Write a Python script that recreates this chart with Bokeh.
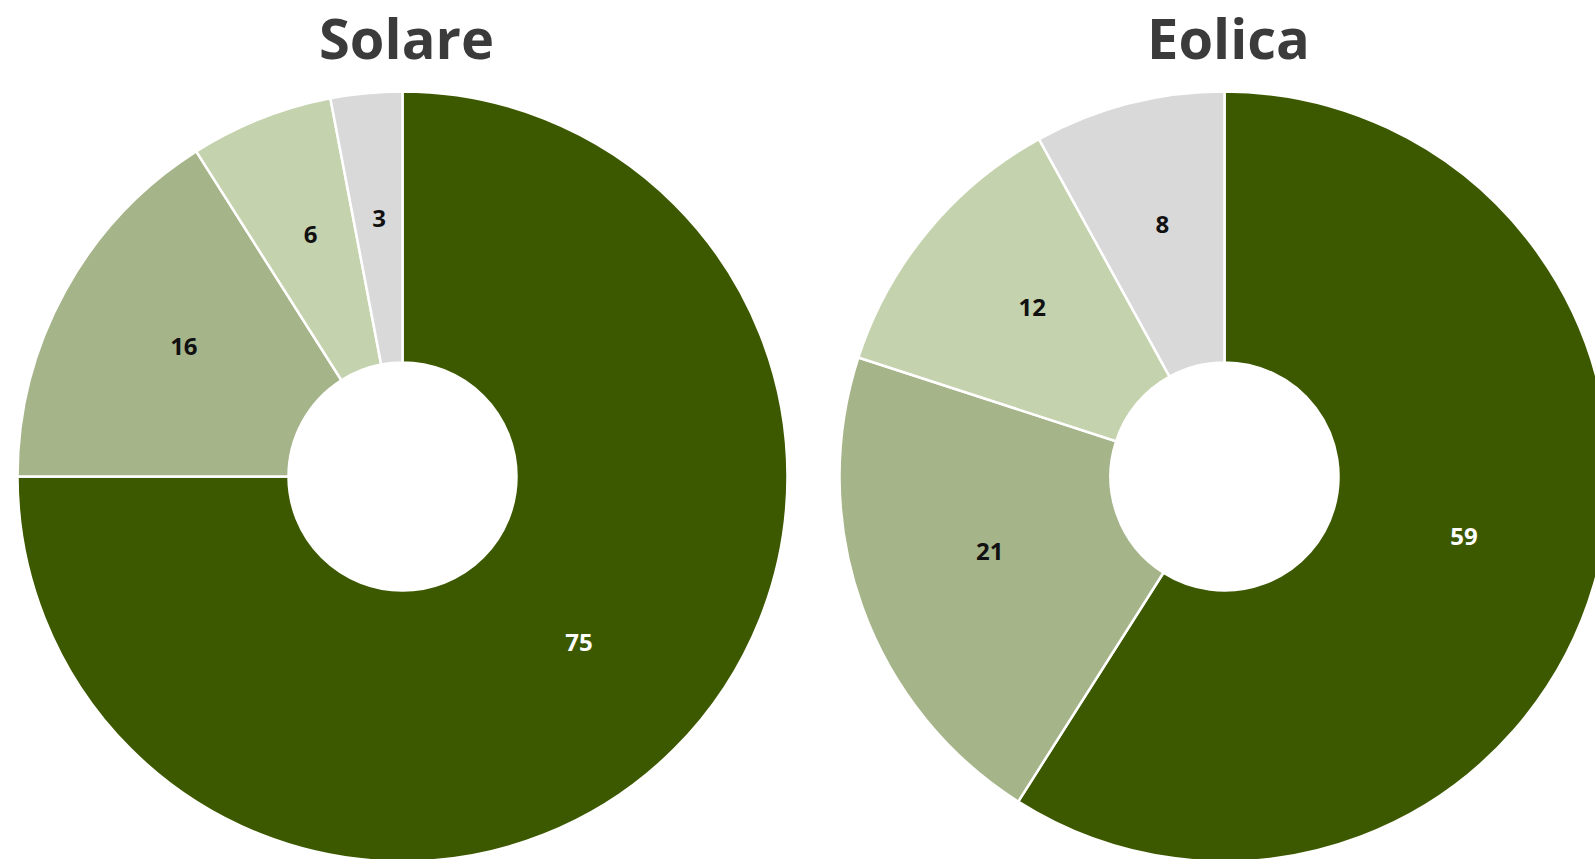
import math
from bokeh.plotting import figure
from bokeh.models import Range1d, ColumnDataSource
from bokeh.core.properties import value
from bokeh.embed import file_html
from bokeh.resources import INLINE

titles = ["Solare", "Eolica"]
solare = [75, 16, 6, 3]
eolica = [59, 21, 12, 8]
colors = ["#3d5900", "#a6b48a", "#c5d2ae", "#d9d9d9"]
label_colors = ["#ffffff", "#111111", "#111111", "#111111"]

W, H = 1595, 859
p = figure(width=W, height=H, output_backend="svg", toolbar_location=None,
           x_range=Range1d(0, W), y_range=Range1d(859 - H, 859),
           min_border=0, outline_line_color=None)
p.axis.visible = False
p.grid.visible = False
p.background_fill_color = "white"
p.border_fill_color = "white"

R_OUT, R_IN = 385, 114
centers = [(402, 859 - 476), (1224, 859 - 476)]
LABEL_DY = 10

for (cx, cy), title, vals in zip(centers, titles, [solare, eolica]):
    total = sum(vals)
    starts, ends, lx, ly = [], [], [], []
    cum = 0
    for v in vals:
        a0 = math.pi / 2 - 2 * math.pi * cum / total
        a1 = math.pi / 2 - 2 * math.pi * (cum + v) / total
        starts.append(a0)
        ends.append(a1)
        am = (a0 + a1) / 2
        rm = (R_IN + R_OUT) / 2
        lx.append(cx + rm * math.cos(am))
        ly.append(cy + rm * math.sin(am) + LABEL_DY)
        cum += v
    src = ColumnDataSource(dict(x=[cx] * len(vals), y=[cy] * len(vals), start=starts, end=ends,
                                color=colors, lx=lx, ly=ly, txt=[str(v) for v in vals],
                                tc=label_colors))
    p.annular_wedge(x="x", y="y", inner_radius=R_IN, outer_radius=R_OUT,
                    inner_radius_units="screen", outer_radius_units="screen",
                    start_angle="start", end_angle="end", direction="clock",
                    fill_color="color", line_color="white", line_width=2.5, source=src)
    p.text(x="lx", y="ly", text="txt", text_color="tc", text_align="center",
           text_baseline="middle", text_font=value("Open Sans"), text_font_style="bold",
           text_font_size="24px", source=src)
    p.text(x=[cx + 4], y=[859 - 36], text=[title], text_align="center", text_baseline="middle",
           text_font=value("Open Sans"), text_font_style="bold", text_font_size="56px",
           text_color="#3b3b3b")

open("out.html", "w").write(file_html(p, INLINE))
